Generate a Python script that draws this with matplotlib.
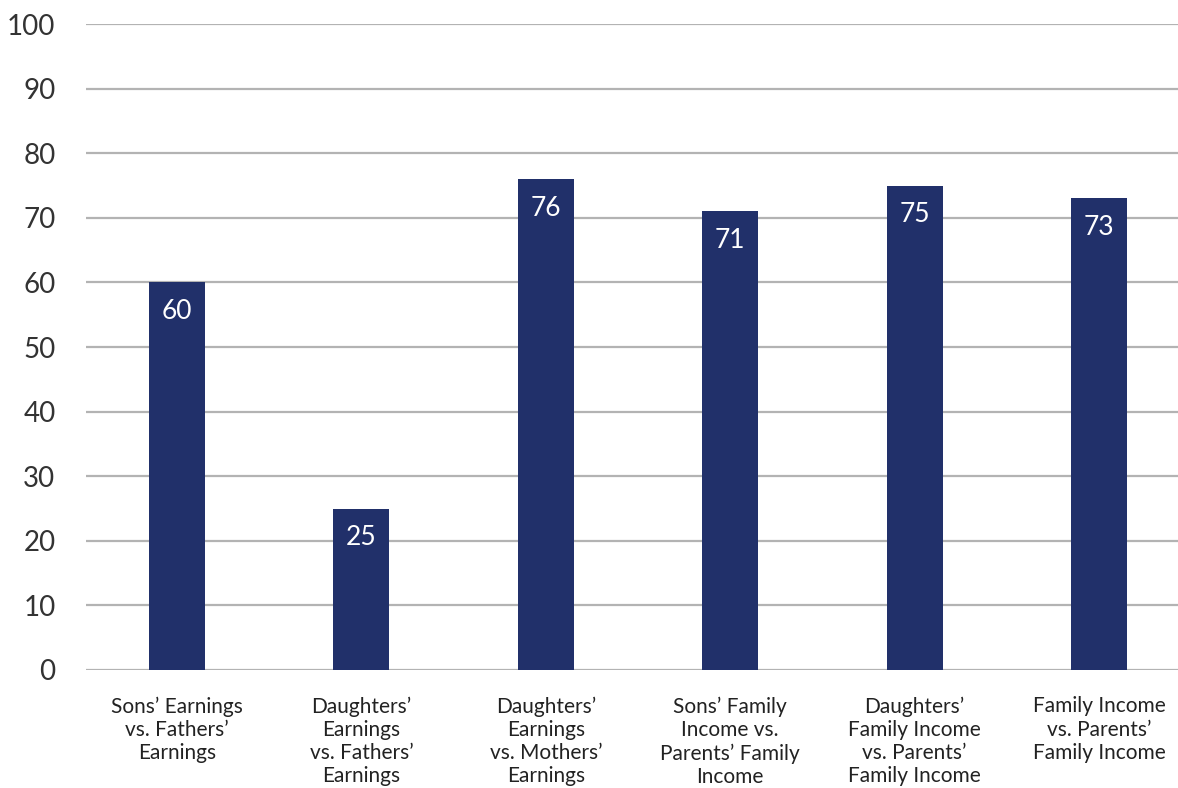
import matplotlib
matplotlib.use("Agg")
import matplotlib.pyplot as plt

categories = [
    "Sons\u2019 Earnings\nvs. Fathers\u2019\nEarnings",
    "Daughters\u2019\nEarnings\nvs. Fathers\u2019\nEarnings",
    "Daughters\u2019\nEarnings\nvs. Mothers\u2019\nEarnings",
    "Sons\u2019 Family\nIncome vs.\nParents\u2019 Family\nIncome",
    "Daughters\u2019\nFamily Income\nvs. Parents\u2019\nFamily Income",
    "Family Income\nvs. Parents\u2019\nFamily Income",
]
values = [60, 25, 76, 71, 75, 73]
y_ticks = list(range(0, 101, 10))

plt.rcParams["font.family"] = ["Lato", "DejaVu Sans"]

fig = plt.figure(figsize=(11.78, 7.88), dpi=100)
ax = fig.add_axes([86 / 1178, 1 - 670 / 788, 1 - 86 / 1178, (670 - 24) / 788])

x = list(range(len(values)))
bar_color = "#21306A"
ax.bar(x, values, width=0.304, color=bar_color, zorder=3)

for xi, v in zip(x, values):
    ax.annotate(f"{v}", xy=(xi, v), xytext=(0, -29), textcoords="offset pixels",
                ha="center", va="center", color="white", fontsize=19, zorder=4)

ax.set_ylim(0, 100)
ax.set_xlim(-0.4935, 5.428)
ax.set_yticks(y_ticks)
ax.set_yticklabels([str(t) for t in y_ticks], fontsize=20, color="#333333")
ax.yaxis.grid(True, color="#B3B3B3", linewidth=1.6, zorder=0)
ax.set_axisbelow(True)
ax.tick_params(axis="y", length=0, pad=22)
ax.tick_params(axis="x", length=0, pad=19)
ax.set_xticks(x)
ax.set_xticklabels(categories, fontsize=15, color="#222222", linespacing=1.2, va="top")
for s in ax.spines.values():
    s.set_visible(False)

fig.savefig("out.png", dpi=100)
